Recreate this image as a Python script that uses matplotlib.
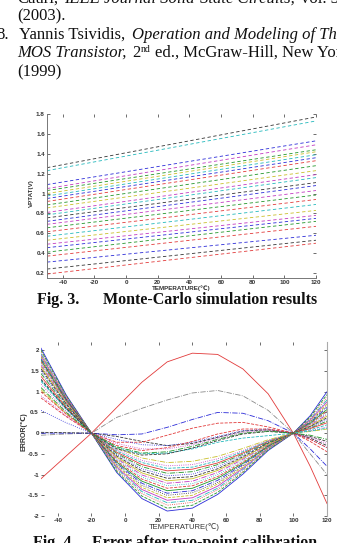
import matplotlib
matplotlib.use('Agg')
import matplotlib.pyplot as plt

W, H = 337, 543
DPI = 100

# ---------------- Fig. 3 data (VPTAT lines, value at -50 and at 120 C) ----------------
fig3_temps = [-50, 120]
vptat_start = [1.26, 1.23, 1.09, 1.05, 1.03, 1.00, 0.975, 0.95, 0.92, 0.885, 0.855, 0.81,
               0.785, 0.755, 0.72, 0.69, 0.655, 0.615, 0.57, 0.53, 0.49, 0.455, 0.41,
               0.37, 0.31, 0.24, 0.19]
vptat_end = [1.77, 1.73, 1.53, 1.49, 1.44, 1.42, 1.39, 1.36, 1.33, 1.28, 1.23, 1.19,
             1.16, 1.11, 1.08, 1.03, 0.985, 0.94, 0.89, 0.83, 0.78, 0.75, 0.72,
             0.67, 0.58, 0.53, 0.50]
vptat_colors = ['k', 'c', 'b', 'm', 'g', 'y', 'c', 'b', 'r', 'g', 'y', 'm', 'c', 'k',
                'b', 'm', 'g', 'r', 'c', 'y', 'm', 'b', 'g', 'r', 'b', 'k', 'r']
fig3_xticks = [-40, -20, 0, 20, 40, 60, 80, 100, 120]
fig3_yticks = [0.2, 0.4, 0.6, 0.8, 1.0, 1.2, 1.4, 1.6, 1.8]
fig3_ylabels = ['0.2', '0.4', '0.6', '0.8', '1', '1.2', '1.4', '1.6', '1.8']

# ---------------- Fig. 4 data (error curves) ----------------
fig4_temps = [-50, -35, -20, -5, 10, 25, 40, 55, 70, 85, 100, 110, 120]
err_bundle = [
    [2.05, 0.92, 0, -0.95, -1.58, -1.88, -1.81, -1.48, -0.99, -0.42, 0, 0.42, 1.00],
    [2.00, 0.90, 0, -0.92, -1.52, -1.81, -1.74, -1.43, -0.95, -0.40, 0, 0.39, 0.93],
    [1.96, 0.88, 0, -0.88, -1.46, -1.74, -1.67, -1.37, -0.92, -0.39, 0, 0.36, 0.86],
    [1.92, 0.86, 0, -0.85, -1.41, -1.68, -1.62, -1.33, -0.88, -0.37, 0, 0.34, 0.80],
    [1.88, 0.85, 0, -0.82, -1.36, -1.62, -1.56, -1.28, -0.85, -0.36, 0, 0.32, 0.75],
    [1.85, 0.83, 0, -0.79, -1.31, -1.56, -1.50, -1.23, -0.82, -0.35, 0, 0.29, 0.70],
    [1.82, 0.82, 0, -0.76, -1.26, -1.50, -1.44, -1.19, -0.79, -0.33, 0, 0.28, 0.66],
    [1.79, 0.81, 0, -0.73, -1.21, -1.45, -1.39, -1.14, -0.76, -0.32, 0, 0.26, 0.62],
    [1.76, 0.79, 0, -0.70, -1.16, -1.39, -1.33, -1.09, -0.73, -0.31, 0, 0.24, 0.57],
    [1.72, 0.77, 0, -0.67, -1.11, -1.33, -1.27, -1.05, -0.70, -0.29, 0, 0.22, 0.53],
    [1.68, 0.76, 0, -0.64, -1.06, -1.27, -1.22, -1.00, -0.67, -0.28, 0, 0.21, 0.49],
    [1.64, 0.74, 0, -0.61, -1.01, -1.21, -1.16, -0.95, -0.63, -0.27, 0, 0.19, 0.45],
    [1.60, 0.72, 0, -0.58, -0.96, -1.15, -1.10, -0.90, -0.60, -0.26, 0, 0.17, 0.41],
    [1.55, 0.70, 0, -0.55, -0.91, -1.09, -1.05, -0.86, -0.57, -0.24, 0, 0.16, 0.37],
    [1.50, 0.68, 0, -0.52, -0.86, -1.03, -0.99, -0.81, -0.54, -0.23, 0, 0.14, 0.33],
    [1.44, 0.65, 0, -0.49, -0.81, -0.97, -0.93, -0.76, -0.51, -0.22, 0, 0.12, 0.29],
    [1.37, 0.62, 0, -0.46, -0.76, -0.91, -0.87, -0.72, -0.48, -0.20, 0, 0.11, 0.25],
    [1.28, 0.58, 0, -0.43, -0.71, -0.85, -0.82, -0.67, -0.45, -0.19, 0, 0.08, 0.20],
    [1.18, 0.53, 0, -0.40, -0.66, -0.79, -0.76, -0.62, -0.42, -0.18, 0, 0.06, 0.15],
    [1.05, 0.47, 0, -0.36, -0.60, -0.71, -0.68, -0.56, -0.37, -0.16, 0, 0.04, 0.10],
]
err_special = [
    [-1.10, -0.55, 0, 0.62, 1.23, 1.72, 1.93, 1.90, 1.55, 0.95, 0, -0.80, -1.70],
    [-0.05, -0.02, 0, 0.38, 0.60, 0.80, 0.97, 1.03, 0.90, 0.55, 0, -0.50, -1.00],
    [0.00, 0.00, 0, -0.04, -0.02, 0.14, 0.33, 0.50, 0.48, 0.30, 0, -0.38, -0.80],
    [0.02, 0.01, 0, -0.08, -0.20, -0.30, -0.25, -0.10, 0.05, 0.08, 0, -0.12, -0.30],
    [0.85, 0.40, 0, -0.22, -0.22, -0.05, 0.12, 0.24, 0.26, 0.15, 0, -0.20, -0.45],
    [1.25, 0.58, 0, -0.35, -0.50, -0.48, -0.38, -0.22, -0.12, -0.06, 0, 0.05, 0.12],
    [1.30, 0.60, 0, -0.38, -0.53, -0.50, -0.36, -0.18, -0.02, 0.04, 0, -0.08, -0.20],
    [0.55, 0.25, 0, -0.15, -0.28, -0.30, -0.22, -0.08, 0.06, 0.10, 0, -0.15, -0.35],
    [0.90, 0.42, 0, -0.25, -0.38, -0.38, -0.28, -0.12, 0.02, 0.07, 0, -0.10, -0.25],
    [1.00, 0.46, 0, -0.30, -0.42, -0.35, -0.20, -0.02, 0.10, 0.10, 0, -0.15, -0.35],
    [1.10, 0.50, 0, -0.33, -0.48, -0.45, -0.32, -0.15, 0.00, 0.05, 0, -0.05, -0.15],
]
err_special_colors = ['r', 'gray', 'b', 'k', 'r', 'c', 'k', 'b', 'm', 'r', 'g']
err_special_styles = ['-', '-.', '-.', '--', '--', '--', '--', ':', ':', '--', '-.']
fig4_xticks = [-40, -20, 0, 20, 40, 60, 80, 100, 120]
fig4_yticks = [-2, -1.5, -1, -0.5, 0, 0.5, 1, 1.5, 2]
fig4_ylabels = ['-2', '-1.5', '-1', '-0.5', '0', '0.5', '1', '1.5', '2']

COL = {'b': '#2b2bd8', 'g': '#22962a', 'r': '#e23a3a', 'c': '#22b8bc',
       'm': '#c23ac2', 'y': '#c9bf2a', 'k': '#333333', 'gray': '#8a8a8a'}
cycle_c = ['b', 'g', 'r', 'c', 'm', 'y', 'k']
cycle_s = ['-', '--', ':', '-.']

SANS = ['Liberation Sans', 'DejaVu Sans']
SERIF = ['Liberation Serif', 'DejaVu Serif']

fig = plt.figure(figsize=(W / DPI, H / DPI), dpi=DPI)
fig.patch.set_facecolor('white')


def rect(x0, y0, x1, y1):
    return [x0 / W, 1 - y1 / H, (x1 - x0) / W, (y1 - y0) / H]


def fx(x):
    return x / W


def fy(y):
    return 1 - y / H


renderer = fig.canvas.get_renderer()


def runs(x_px, base_px, parts):
    x = x_px
    for s, style, weight, size, dy, gap in parts:
        t = fig.text(fx(x), fy(base_px + dy), s, fontsize=size, family=SERIF,
                     style=style, weight=weight, va='baseline', ha='left', color='#111111')
        bb = t.get_window_extent(renderer=renderer)
        x += bb.width + gap


# ---------------- header text (reference list, cut at page edges) ----------------
TS = 12
runs(17, 2.5, [('Cauri,', 'normal', 'normal', TS, 0, 6),
               ('IEEE Journal Solid-State Circuits,', 'italic', 'normal', TS, 0, 6),
               ('vol. 38, No', 'normal', 'normal', TS, 0, 0)])
runs(17, 20, [('(2003).', 'normal', 'normal', TS, 0, 0)])
runs(-4, 39, [('8.', 'normal', 'normal', TS, 0, 10),
              ('Yannis Tsividis,', 'normal', 'normal', TS, 0, 7),
              ('Operation and Modeling of The', 'italic', 'normal', TS, 0, 0)])
runs(17, 57, [('MOS Transistor,', 'italic', 'normal', TS, 0, 6),
              ('2', 'normal', 'normal', TS, 0, 0),
              ('nd', 'normal', 'normal', 7, -5, 5),
              ('ed., McGraw-Hill, New York', 'normal', 'normal', TS, 0, 0)])
runs(17, 76, [('(1999)', 'normal', 'normal', TS, 0, 0)])


def style_axes(ax):
    ax.tick_params(direction='in', length=2, width=0.5, top=True, right=True,
                   labelsize=4.5, pad=1.5, colors='#333333')
    for lab in ax.get_xticklabels() + ax.get_yticklabels():
        lab.set_family(SANS)
        lab.set_weight('bold')


# ---------------- Fig. 3 ----------------
ax1 = fig.add_axes(rect(47, 114, 316, 278))
for s0, s1, c in zip(vptat_start, vptat_end, vptat_colors):
    ax1.plot(fig3_temps, [s0, s1], color=COL[c], ls=(0, (4, 3)), lw=0.6)
ax1.set_xlim(-50, 120)
ax1.set_ylim(0.15, 1.8)
ax1.set_xticks(fig3_xticks)
ax1.set_xticklabels([str(v) for v in fig3_xticks])
ax1.set_yticks(fig3_yticks)
ax1.set_yticklabels(fig3_ylabels)
for side in ['top', 'right']:
    ax1.spines[side].set_visible(False)
for side in ['left', 'bottom']:
    ax1.spines[side].set_color('#777777')
    ax1.spines[side].set_linewidth(0.7)
style_axes(ax1)
fig.text(fx(31), fy(193), 'VPTAT(V)', rotation=90, fontsize=4.5, family=SANS,
         weight='bold', ha='center', va='center', color='#333333')
fig.text(fx(181), fy(288), 'TEMPERATURE(\u2103)', fontsize=4.5, family=SANS,
         weight='bold', ha='center', va='center', color='#333333')

runs(37, 304, [('Fig. 3.', 'normal', 'bold', 11.5, 0, 0)])
runs(103, 304, [('Monte-Carlo simulation results', 'normal', 'bold', 11.5, 0, 0)])

# ---------------- Fig. 4 ----------------
ax2 = fig.add_axes(rect(41, 342, 327, 516))
for i, row in enumerate(err_bundle):
    ax2.plot(fig4_temps, row, color=COL[cycle_c[i % 7]], ls=cycle_s[i % 4], lw=0.6)
for row, c, s in zip(err_special, err_special_colors, err_special_styles):
    ax2.plot(fig4_temps, row, color=COL[c], ls=s, lw=0.6)
ax2.set_xlim(-50, 120)
ax2.set_ylim(-2, 2.2)
ax2.set_xticks(fig4_xticks)
ax2.set_xticklabels([str(v) for v in fig4_xticks])
ax2.set_yticks(fig4_yticks)
ax2.set_yticklabels(fig4_ylabels)
for side in ['top', 'left', 'bottom']:
    ax2.spines[side].set_visible(False)
ax2.spines['right'].set_color('#aaaaaa')
ax2.spines['right'].set_linewidth(0.8)
style_axes(ax2)
fig.text(fx(24), fy(432), 'ERROR(\u2103)', rotation=90, fontsize=5, family=SANS,
         weight='bold', ha='center', va='center', color='#333333')
fig.text(fx(184), fy(527), 'TEMPERATURE(\u2103)', fontsize=5.5, family=SANS,
         ha='center', va='center', color='#333333')

runs(33, 547, [('Fig. 4.', 'normal', 'bold', 11.5, 0, 0)])
runs(92, 547, [('Error after two-point calibration', 'normal', 'bold', 11.5, 0, 0)])

fig.savefig('out.png', dpi=DPI, facecolor='white')
